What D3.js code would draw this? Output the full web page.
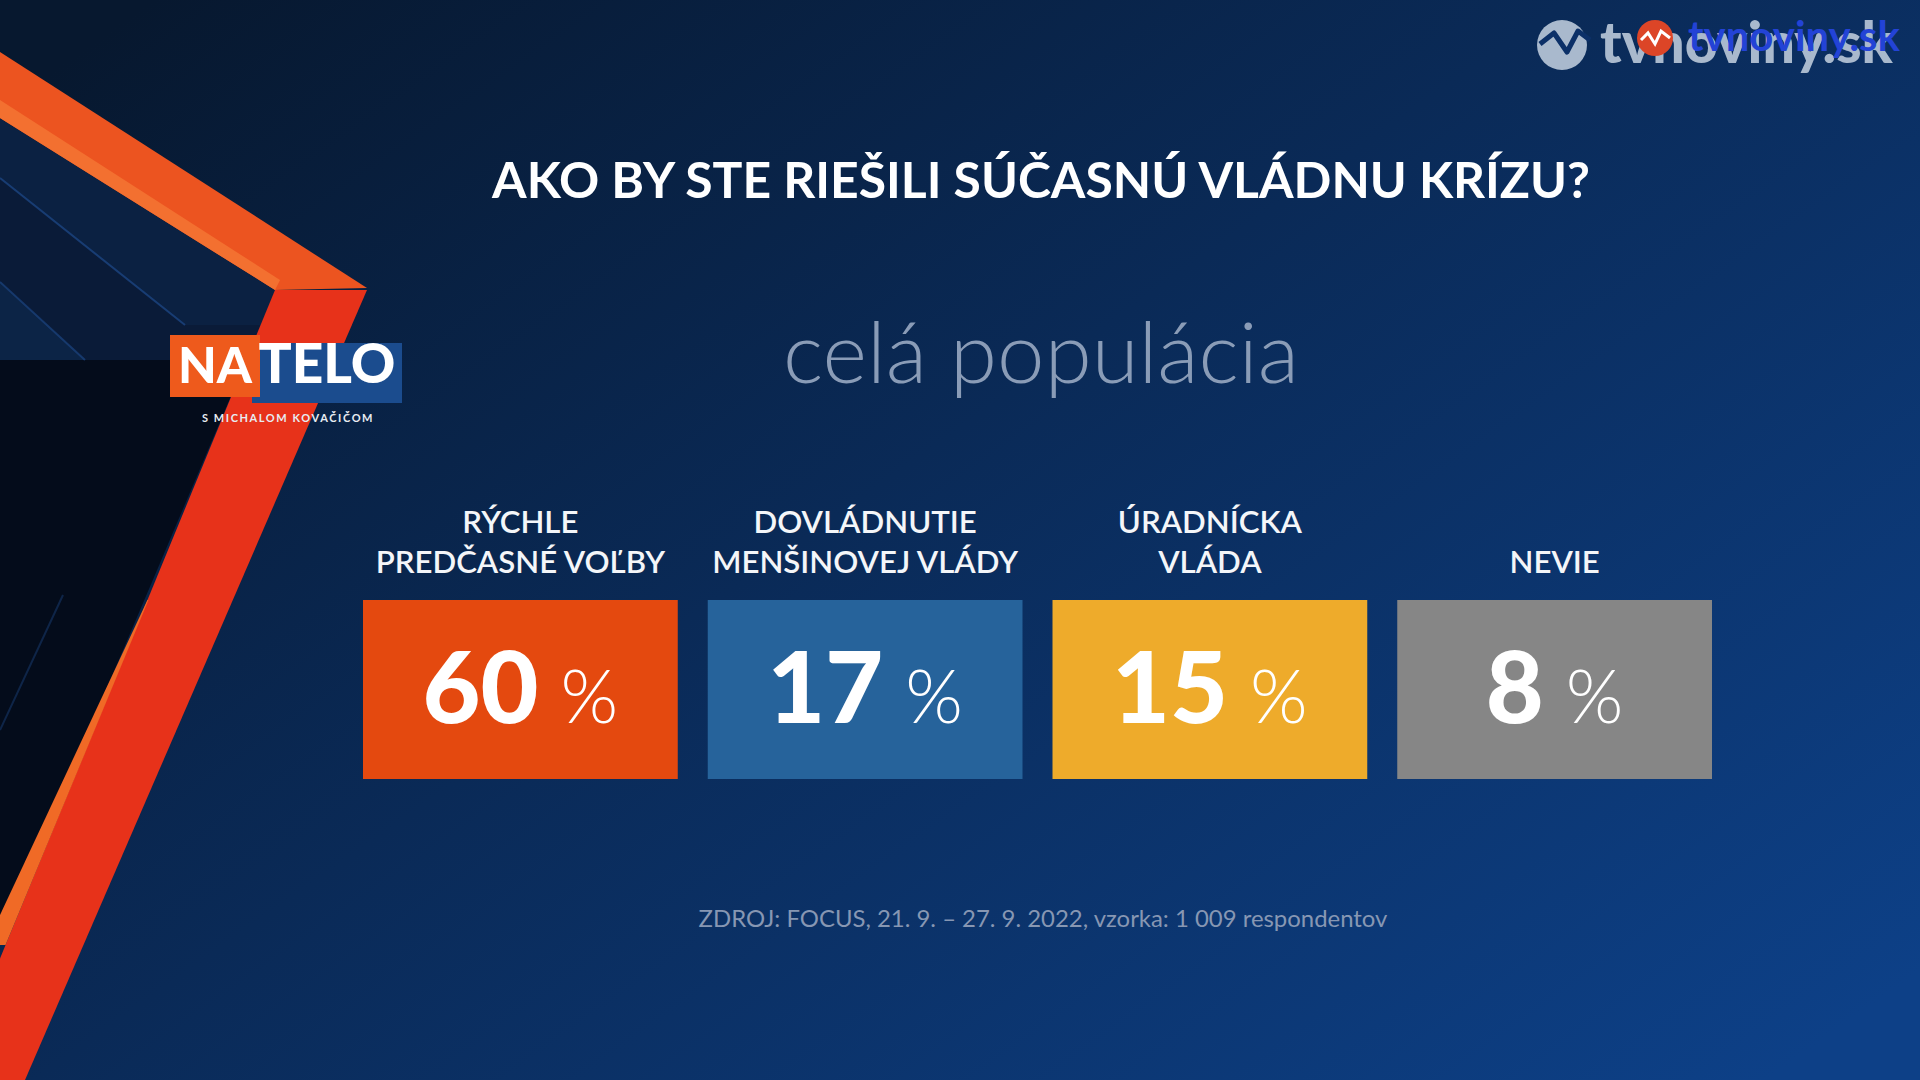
<!DOCTYPE html>
<html><head><meta charset="utf-8">
<script src="https://cdn.jsdelivr.net/npm/d3@7"></script>
<style>html,body{margin:0;padding:0;background:#0b2a57;overflow:hidden}svg{display:block}</style>
</head><body>
<script>
// ---- data ----
const title = "AKO BY STE RIEŠILI SÚČASNÚ VLÁDNU KRÍZU?";
const subtitle = "celá populácia";
const categories = ["RÝCHLE PREDČASNÉ VOĽBY", "DOVLÁDNUTIE MENŠINOVEJ VLÁDY", "ÚRADNÍCKA VLÁDA", "NEVIE"];
const labelLines = [["RÝCHLE", "PREDČASNÉ VOĽBY"], ["DOVLÁDNUTIE", "MENŠINOVEJ VLÁDY"], ["ÚRADNÍCKA", "VLÁDA"], ["NEVIE"]];
const values = [60, 17, 15, 8];
const unit = "%";
const source = "ZDROJ: FOCUS, 21. 9. – 27. 9. 2022, vzorka: 1 009 respondentov";
const palette = ["#e4490f", "#26639b", "#eeab2b", "#868686"];

const W = 1920, H = 1080;
const svg = d3.select("body").append("svg").attr("width", W).attr("height", H);
const defs = svg.append("defs");
const bg = defs.append("linearGradient").attr("id", "bg")
  .attr("x1", 0).attr("y1", 0.1).attr("x2", 1).attr("y2", 0.9);
bg.append("stop").attr("offset", 0).attr("stop-color", "#07182f");
bg.append("stop").attr("offset", 0.45).attr("stop-color", "#0a2a57");
bg.append("stop").attr("offset", 1).attr("stop-color", "#0d4087");
svg.append("rect").attr("width", W).attr("height", H).attr("fill", "url(#bg)");

// ---- decorative frame (left) ----
const deco = svg.append("g");
const xl = y => 275 - (y - 290) * 325 / 790;   // red leg left edge
const xr = y => 367 - (y - 290) * 342 / 790;   // red leg right edge
const poly = (pts, fill, op = 1) => deco.append("polygon")
  .attr("points", pts.map(p => p.join(",")).join(" ")).attr("fill", fill).attr("opacity", op);
poly([[0, 118], [275, 290], [268, 325], [185, 325], [0, 178]], "#0b2142");
poly([[0, 178], [185, 325], [262, 325], [253, 360], [85, 360], [0, 282]], "#0a1b38");
poly([[0, 282], [85, 360], [0, 395]], "#0c2446");
poly([[0, 360], [xl(360), 360], [0, 940]], "#040c1b");
deco.append("line").attr("x1", 0).attr("y1", 178).attr("x2", 185).attr("y2", 325)
  .attr("stroke", "#1f4b8c").attr("stroke-width", 2).attr("opacity", 0.7);
deco.append("line").attr("x1", 0).attr("y1", 282).attr("x2", 85).attr("y2", 360)
  .attr("stroke", "#1f4b8c").attr("stroke-width", 2).attr("opacity", 0.6);
deco.append("line").attr("x1", 63).attr("y1", 595).attr("x2", 0).attr("y2", 730)
  .attr("stroke", "#1f4b8c").attr("stroke-width", 2).attr("opacity", 0.4);
// upper orange band
poly([[0, 52], [367, 288], [275, 290], [0, 118]], "#ec5420");
poly([[0, 100], [280, 280], [275, 290], [0, 118]], "#f37030");
// red leg
poly([[275, 290], [367, 290], [xr(1080), 1080], [-50, 1080]], "#e7321a");
poly([[xl(600), 600], [xl(600) + 1, 600], [xl(945), 945], [0, 945], [0, 915]], "#f06a26");

// ---- NA TELO logo ----
const logo = svg.append("g");
logo.append("rect").attr("x", 252).attr("y", 343).attr("width", 150).attr("height", 60).attr("fill", "#1b4c8e");
logo.append("rect").attr("x", 170).attr("y", 335).attr("width", 90).attr("height", 62).attr("fill", "#ee5a1c");

function fit(sel, target) {
  const w = sel.node().getComputedTextLength();
  const fs = parseFloat(sel.attr("font-size"));
  sel.attr("font-size", fs * target / w);
  return sel;
}
fit(logo.append("text").attr("x", 215).attr("y", 383).attr("text-anchor", "middle")
  .attr("font-family", "Lato").attr("font-weight", 900).attr("font-size", 44).attr("fill", "#fff").text("NA"), 74);
fit(logo.append("text").attr("x", 327).attr("y", 383).attr("text-anchor", "middle")
  .attr("font-family", "Lato").attr("font-weight", 900).attr("font-size", 38).attr("fill", "#fff").text("TELO"), 137);
logo.append("text").attr("x", 288).attr("y", 422).attr("text-anchor", "middle")
  .attr("font-family", "Lato").attr("font-weight", 700).attr("font-size", 11).attr("letter-spacing", 1.6)
  .attr("fill", "#e8ecf2").text("S MICHALOM KOVAČIČOM");

// ---- top-right brand ----
const brand = svg.append("g");
brand.append("circle").attr("cx", 1562).attr("cy", 45).attr("r", 25).attr("fill", "#a9b9cd");
brand.append("path").attr("d", "M1540,44 L1554,33 L1567,52 L1578,31 L1590,40")
  .attr("fill", "none").attr("stroke", "#0c3068").attr("stroke-width", 5).attr("stroke-linejoin", "round");
fit(brand.append("text").attr("x", 1600).attr("y", 63).attr("font-family", "Lato").attr("font-weight", 900)
  .attr("font-size", 52).attr("fill", "#a9b9cd").text("tvnoviny.sk"), 293);
brand.append("circle").attr("cx", 1655).attr("cy", 38).attr("r", 18).attr("fill", "#dc4527");
brand.append("path").attr("d", "M1641,40 L1648,33 L1655,44 L1661,31 L1670,38")
  .attr("fill", "none").attr("stroke", "#ffffff").attr("stroke-width", 3);
fit(brand.append("text").attr("x", 1688).attr("y", 51).attr("font-family", "Lato").attr("font-weight", 700)
  .attr("font-size", 34).attr("fill", "#2343d6").text("tvnoviny.sk"), 212);

// ---- titles ----
fit(svg.append("text").attr("x", 1041).attr("y", 198).attr("text-anchor", "middle")
  .attr("font-family", "Lato").attr("font-weight", 700).attr("font-size", 44).attr("fill", "#ffffff")
  .text(title), 1098);
fit(svg.append("text").attr("x", 1041).attr("y", 383).attr("text-anchor", "middle")
  .attr("font-family", "Lato").attr("font-weight", 300).attr("font-size", 78).attr("fill", "#8a9cb7")
  .text(subtitle), 516);

// ---- boxes ----
const x = d3.scaleBand().domain(categories).range([363, 1712]).paddingInner(0.087).paddingOuter(0);
const color = d3.scaleOrdinal().domain(categories).range(palette);
const data = categories.map((c, i) => ({ c, v: values[i], lines: labelLines[i] }));

const g = svg.append("g").selectAll("g").data(data).join("g");
g.append("rect").attr("x", d => x(d.c)).attr("y", 600).attr("width", x.bandwidth()).attr("height", 179)
  .attr("fill", d => color(d.c));

// labels: measure once to get a common font size
const lab = g.append("text").attr("text-anchor", "middle").attr("font-family", "Lato")
  .attr("font-weight", 600).attr("font-size", 30).attr("fill", "#f4f6f9");
lab.selectAll("tspan").data(d => d.lines.map((t, j) => ({ t, j, n: d.lines.length, d })))
  .join("tspan")
  .attr("x", o => x(o.d.c) + x.bandwidth() / 2)
  .attr("y", o => 573 - (o.n - 1 - o.j) * 40)
  .text(o => o.t);
let maxW = 0;
lab.selectAll("tspan").each(function () { maxW = Math.max(maxW, this.getComputedTextLength()); });
lab.attr("font-size", 30 * 306 / maxW);

// values
const num = g.append("text").attr("x", d => x(d.c) + x.bandwidth() / 2).attr("y", 723)
  .attr("text-anchor", "middle").attr("fill", "#ffffff").attr("font-family", "Lato");
num.append("tspan").attr("font-weight", 900).attr("font-size", 100).text(d => d.v);
num.append("tspan").attr("dx", 22).attr("font-weight", 300).attr("font-size", 74).text(unit);

// ---- footer ----
fit(svg.append("text").attr("x", 1043).attr("y", 927).attr("text-anchor", "middle")
  .attr("font-family", "Lato").attr("font-weight", 400).attr("font-size", 21).attr("fill", "#8797b3")
  .text(source), 689);
</script>
</body></html>
